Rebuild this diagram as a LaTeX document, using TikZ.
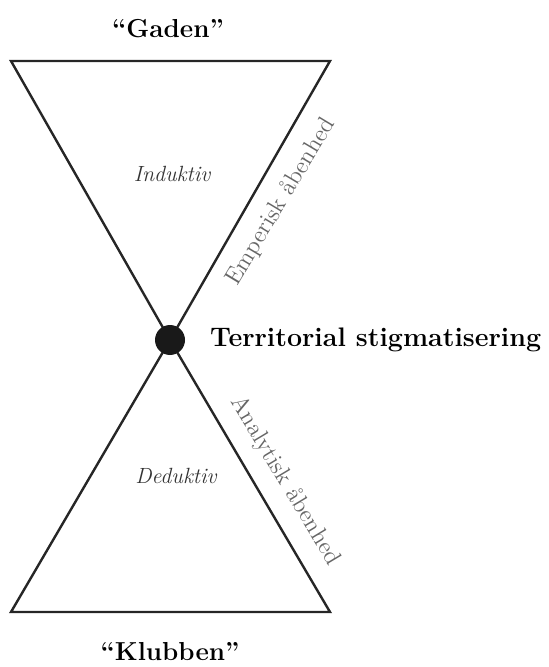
\documentclass[tikz,border=0pt]{standalone}
\usepackage{xcolor}
\usetikzlibrary{positioning}

\begin{document}
\begin{tikzpicture}[x=0.5pt,y=-0.5pt,line width=1.2pt,line join=miter]
  \tikzstyle{title}=[font=\fontsize{13}{15}\selectfont\bfseries]
  \tikzstyle{mode}=[font=\fontsize{11}{13}\selectfont\itshape,text=black!80]
  \tikzstyle{side}=[font=\fontsize{12}{14}\selectfont,text=black!60]
  \useasboundingbox (0,0) rectangle (548,667);
  \coordinate (tl) at (11,61);
  \coordinate (tr) at (330,61);
  \coordinate (bl) at (11,612);
  \coordinate (br) at (330,612);
  \coordinate (apex) at (170,340);
  \draw[black!85] (tl) -- (tr) -- (apex) -- cycle;
  \draw[black!85] (bl) -- (br) -- (apex) -- cycle;
  \node (c) [circle,fill=black!90,inner sep=0pt,minimum size=15pt] at (apex) {};
  \node (gaden) [title] at (168,29) {``Gaden''};
  \node (klubben) [title] at (170,652) {``Klubben''};
  \node (terr) [font=\fontsize{13.4}{15}\selectfont\bfseries,right=8pt of c] {Territorial stigmatisering};
  \node (ind) [mode] at (172,174) {Induktiv};
  \node (ded) [mode] at (176,476) {Deduktiv};
  \node (emp) [side,rotate=59] at (281,202) {Emperisk åbenhed};
  \node (ana) [side,rotate=-59] at (285,481) {Analytisk åbenhed};
\end{tikzpicture}
\end{document}
